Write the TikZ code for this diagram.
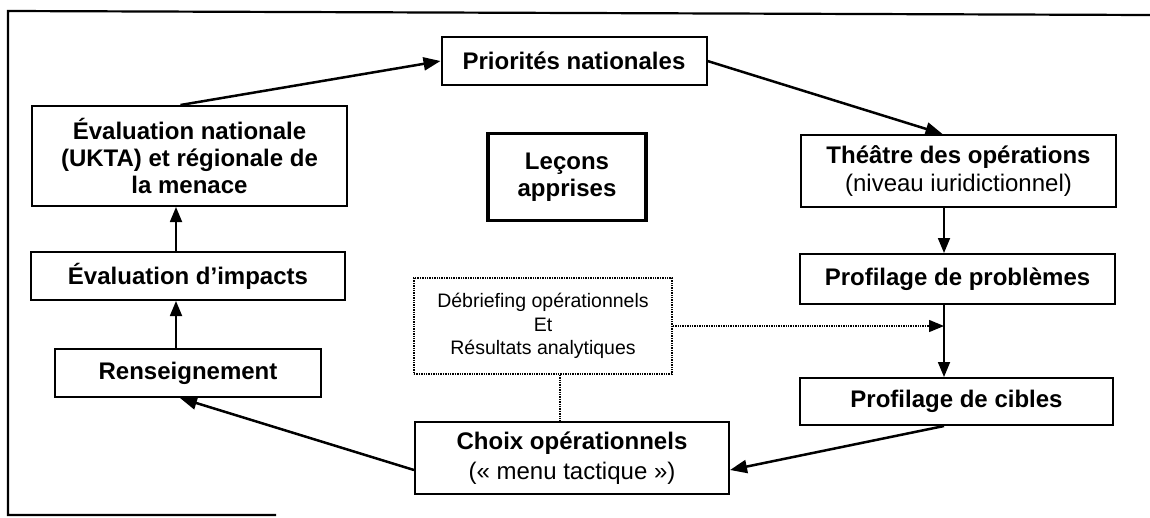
\documentclass[tikz,border=0pt]{standalone}
\usepackage{fontspec}
\setmainfont{Liberation Sans}
\usetikzlibrary{arrows.meta}
\tikzset{
  box/.style={draw=black, line width=2pt, align=center, inner sep=2pt,
    font=\fontsize{24}{27}\selectfont\bfseries},
  thickbox/.style={box, line width=3.6pt},
  dotbox/.style={draw=black, line width=1.4pt, densely dotted, align=center,
    font=\fontsize{19.5}{23.5}\selectfont},
  arr/.style={line width=2.5pt, -{Triangle[length=17pt,width=13pt]}},
  varr/.style={line width=1.8pt, -{Triangle[length=15pt,width=12pt]}},
  dotarr/.style={line width=1.4pt, densely dotted, -{Triangle[length=15pt,width=12pt]}},
  dotline/.style={line width=1.4pt, densely dotted},
  frame/.style={line width=2.2pt, line cap=rect},
}
\begin{document}
\begin{tikzpicture}[x=1pt,y=-1pt]
\useasboundingbox (0,0) rectangle (1150,517);
% outer frame (as printed: top, left, partial bottom)
\coordinate (ftl) at (8,11);
\coordinate (ftr) at (1150,15);
\coordinate (fbl) at (8,515);
\coordinate (fbr) at (275,515);
\draw[frame] (ftr) -- (ftl) -- (fbl) -- (fbr);

% nodes
\node[box, minimum width=265pt, minimum height=48pt] (prio) at (574,61) {Priorités nationales};
\node[box, minimum width=315pt, minimum height=100pt] (evn) at (189.5,156) {Évaluation nationale\\(UKTA) et régionale de\\la menace};
\node[thickbox, minimum width=158pt, minimum height=87pt] (lecons) at (567,177) {Leçons\\apprises};
\node[box, minimum width=315pt, minimum height=72pt, font=\fontsize{24}{28}\selectfont\bfseries] (theatre) at (958.5,171) {Théâtre des opérations\\{\mdseries (niveau iuridictionnel)}};
\node[box, minimum width=315pt, minimum height=50pt] (probl) at (957.5,279) {Profilage de problèmes};
\node[box, minimum width=313pt, minimum height=47pt] (cibles) at (956.5,401.5) {Profilage de cibles};
\node[box, minimum width=314pt, minimum height=48pt] (impacts) at (188,276) {Évaluation d’impacts};
\node[box, minimum width=266pt, minimum height=48pt] (rens) at (188,373) {Renseignement};
\node[dotbox, minimum width=258pt, minimum height=96pt] (debrief) at (543,326) {Débriefing opérationnels\\Et\\Résultats analytiques};
\node[box, minimum width=314pt, minimum height=72pt, font=\fontsize{24}{29.5}\selectfont\bfseries] (choix) at (572,458) {Choix opérationnels\\{\mdseries (« menu tactique »)}};

% column guides
\coordinate (colR) at (944,0);
\coordinate (colL) at (176,0);
\coordinate (colD) at (560,0);

% connectors
\draw[arr] ([xshift=-9pt]evn.north) -- (prio.west);
\draw[arr] (prio.east) -- ([xshift=-16pt]theatre.north);
\draw[varr] (theatre.south -| colR) -- (probl.north -| colR);
\draw[varr] (probl.south -| colR) -- (cibles.north -| colR);
\draw[dotarr] (debrief.east) -- (debrief.east -| colR);
\draw[dotline] (debrief.south -| colD) -- (choix.north -| colD);
\draw[arr] (cibles.south -| colR) -- ([yshift=-12pt]choix.east);
\draw[arr] ([yshift=-12pt]choix.west) -- ([xshift=-8pt]rens.south);
\draw[varr] (rens.north -| colL) -- (impacts.south -| colL);
\draw[varr] (impacts.north -| colL) -- (evn.south -| colL);
\end{tikzpicture}
\end{document}
